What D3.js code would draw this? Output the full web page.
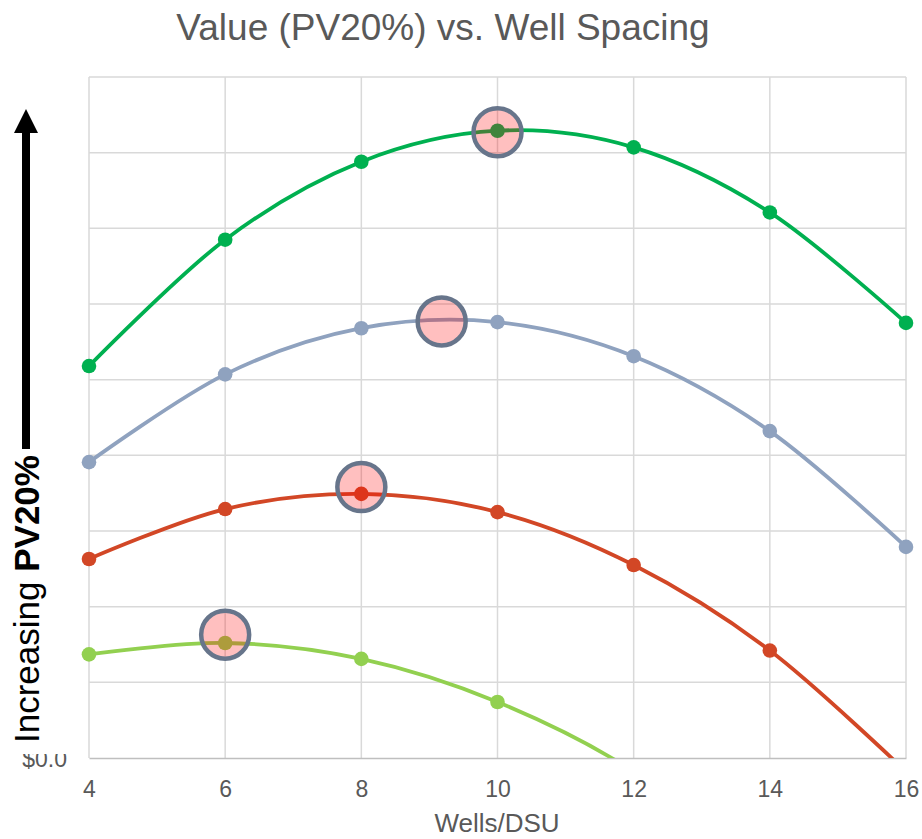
<!DOCTYPE html>
<html>
<head>
<meta charset="utf-8">
<script src="https://cdn.jsdelivr.net/npm/d3@7"></script>
<style>
  html, body { margin: 0; padding: 0; background: #fff; }
  svg { display: block; font-family: "Liberation Sans", Arial, sans-serif; }
</style>
</head>
<body>
<svg id="chart" width="922" height="839"></svg>
<script>
// Wells per DSU on the x axis
const wells = [4, 6, 8, 10, 12, 14, 16];
const xTicks = [4, 6, 8, 10, 12, 14, 16];

// PV20% by spacing for each case (unitless, $0 baseline)
const caseHigh    = [5.18, 6.85, 7.88, 8.29, 8.07, 7.21, 5.75];
const caseUpper   = [3.91, 5.07, 5.68, 5.76, 5.31, 4.32, 2.79];
const caseMid     = [2.63, 3.29, 3.49, 3.25, 2.55, 1.42, -0.18];
const caseLow     = [1.37, 1.52, 1.31, 0.74, -0.18, -1.6, -3.4];

// Optimum spacing for each case
const optimumX = [10, 9.18, 8, 6];
const optimumY = [8.27, 5.77, 3.58, 1.63];

const seriesColors = ["#00b050", "#8fa2bf", "#d24726", "#92d050"];
const seriesValues = [caseHigh, caseUpper, caseMid, caseLow];

const svg = d3.select("#chart");
const plot = { left: 89, right: 906, top: 77, bottom: 758 };

const x = d3.scaleLinear().domain([4, 16]).range([plot.left, plot.right]);
const y = d3.scaleLinear().domain([0, 9]).range([plot.bottom, plot.top]);

// Gridlines
const grid = svg.append("g");
grid.selectAll("line.h")
  .data(d3.range(1, 10))
  .join("line")
  .attr("x1", plot.left).attr("x2", plot.right)
  .attr("y1", d => y(d)).attr("y2", d => y(d))
  .attr("stroke", "#d9d9d9").attr("stroke-width", 1.5);
grid.selectAll("line.v")
  .data(xTicks)
  .join("line")
  .attr("x1", d => x(d)).attr("x2", d => x(d))
  .attr("y1", plot.top).attr("y2", plot.bottom)
  .attr("stroke", "#d9d9d9").attr("stroke-width", 1.5);

// X axis
const xAxis = svg.append("g")
  .attr("transform", `translate(0,${plot.bottom})`)
  .call(d3.axisBottom(x).tickValues(xTicks).tickSize(0).tickPadding(0));
xAxis.select(".domain").attr("stroke", "#bfbfbf").attr("stroke-width", 1.5);
xAxis.selectAll("text")
  .attr("fill", "#595959")
  .attr("font-size", 23)
  .attr("dy", null)
  .attr("y", 39)
  .attr("font-family", "Liberation Sans, Arial, sans-serif");

// Clip lines/markers to the plot area
svg.append("clipPath").attr("id", "plotClip")
  .append("rect")
  .attr("x", plot.left - 10).attr("y", plot.top - 10)
  .attr("width", plot.right - plot.left + 20)
  .attr("height", plot.bottom - plot.top + 10);

const line = d3.line()
  .x((d, i) => x(wells[i]))
  .y(d => y(d))
  .curve(d3.curveCardinal.tension(0));

const seriesG = svg.append("g").attr("clip-path", "url(#plotClip)");
seriesValues.forEach((vals, k) => {
  seriesG.append("path")
    .attr("d", line(vals))
    .attr("fill", "none")
    .attr("stroke", seriesColors[k])
    .attr("stroke-width", 3.8);
  seriesG.selectAll(null)
    .data(vals)
    .join("circle")
    .attr("cx", (d, i) => x(wells[i]))
    .attr("cy", d => y(d))
    .attr("r", 7.3)
    .attr("fill", seriesColors[k]);
});

// Optimum markers
svg.append("g").selectAll("circle")
  .data(optimumX)
  .join("circle")
  .attr("cx", d => x(d))
  .attr("cy", (d, i) => y(optimumY[i]))
  .attr("r", 24)
  .attr("fill", "rgba(255,0,0,0.25)")
  .attr("stroke", "#67758b")
  .attr("stroke-width", 4.5);

// Baseline tick label
svg.append("text")
  .attr("x", 67).attr("y", y(0) + 9)
  .attr("text-anchor", "end")
  .attr("fill", "#595959")
  .attr("font-size", 23)
  .text("$0.0");

// Panel behind the axis caption
svg.append("rect")
  .attr("x", 0).attr("y", 90)
  .attr("width", 80).attr("height", 664)
  .attr("fill", "#fff");

// Axis caption with upward arrow
const cap = svg.append("text")
  .attr("transform", "translate(39,743) rotate(-90)")
  .attr("font-size", 35)
  .attr("fill", "#000");
cap.append("tspan").text("Increasing ");
cap.append("tspan").attr("font-weight", "bold").text("PV20%");

svg.append("line")
  .attr("x1", 26).attr("x2", 26)
  .attr("y1", 449).attr("y2", 128)
  .attr("stroke", "#000").attr("stroke-width", 8);
svg.append("path")
  .attr("d", "M26,109 L38,133 L14,133 Z")
  .attr("fill", "#000");

// Title
svg.append("text")
  .attr("x", 443).attr("y", 40)
  .attr("text-anchor", "middle")
  .attr("fill", "#595959")
  .attr("font-size", 37)
  .text("Value (PV20%) vs. Well Spacing");

// X axis title
svg.append("text")
  .attr("x", 497).attr("y", 832)
  .attr("text-anchor", "middle")
  .attr("fill", "#595959")
  .attr("font-size", 26)
  .text("Wells/DSU");
</script>
</body>
</html>
